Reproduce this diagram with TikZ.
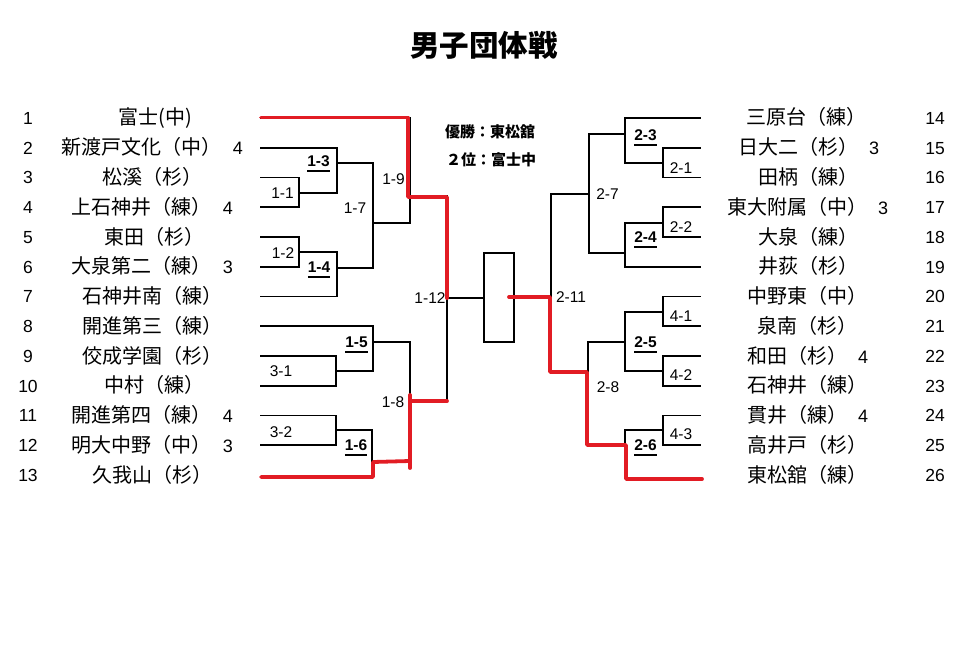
\documentclass[tikz,border=0pt]{standalone}
\usepackage{fontspec}
\setmainfont{Liberation Sans}
\newfontfamily\jp{Noto Sans CJK JP}
\definecolor{wred}{RGB}{226,28,36}
\newcommand\dg[1]{\hspace{11pt}{\rmfamily\fontsize{18}{20}\selectfont #1}}
\newlength\ulwd
\newcommand\ulbold[1]{\settowidth\ulwd{\bfseries #1}\rlap{\bfseries #1}\rule[-5.3pt]{\ulwd}{1.6pt}}
\begin{document}
\begin{tikzpicture}[x=1pt,y=-1pt,
  br/.style={line width=1.8pt, line cap=rect, line join=miter, black},
  rd/.style={line width=3.8pt, line cap=round, line join=round, wred},
  nm/.style={anchor=base, inner sep=0pt, font=\jp\fontsize{20}{22}\selectfont},
  num/.style={anchor=base, inner sep=0pt, font=\fontsize{17.5}{20}\selectfont},
  lb/.style={anchor=base, inner sep=0pt, font=\fontsize{15.5}{18}\selectfont},
  ttl/.style={anchor=base, inner sep=0pt, font=\jp\bfseries\fontsize{29.5}{32}\selectfont},
  res/.style={anchor=base, inner sep=0pt, font=\jp\bfseries\fontsize{15}{17}\selectfont}]
\useasboundingbox (0,0) rectangle (966,655);

% title and results
\node[ttl] (title) at (484,57) {男子団体戦};
\node[res] (win) at (490,137.5) {優勝：東松舘};
\node[res] (second) at (491,165.5) {２位：富士中};

% left teams
\foreach \i/\x/\t in {1/155.5/富士(中), 2/152.5/新渡戸文化（中）\dg{4}, 3/152/松溪（杉）, 4/152.5/上石神井（練）\dg{4},
  5/154/東田（杉）, 6/152.5/大泉第二（練）\dg{3}, 7/152/石神井南（練）, 8/152/開進第三（練）, 9/152/佼成学園（杉）,
  10/154/中村（練）, 11/152.5/開進第四（練）\dg{4}, 12/152.5/明大中野（中）\dg{3}, 13/152/久我山（杉）}{
  \pgfmathsetmacro\yy{118+(\i-1)*29.75}
  \node[num] (nl\i) at (28,\yy+6.3) {\i};
  \node[nm] (tl\i) at (\x,\yy+7) {\t};
}
% right teams
\foreach \i/\x/\t in {14/806/三原台（練）, 15/808.5/日大二（杉）\dg{3}, 16/808/田柄（練）, 17/807.5/東大附属（中）\dg{3},
  18/808/大泉（練）, 19/808/井荻（杉）, 20/807/中野東（中）, 21/807/泉南（杉）, 22/807.5/和田（杉）\dg{4},
  23/807/石神井（練）, 24/807.5/貫井（練）\dg{4}, 25/807/高井戸（杉）, 26/807/東松舘（練）}{
  \pgfmathsetmacro\yy{118+(\i-14)*29.75}
  \node[num] (nr\i) at (935,\yy+6.3) {\i};
  \node[nm] (tr\i) at (\x,\yy+7) {\t};
}

% left bracket
\draw[br] (261,118) -- (410,118) -- (410,223) -- (373,223);
\draw[br] (410,196) -- (447,196);
\draw[br] (261,147.75) -- (337,147.75) -- (337,193) -- (299,193);
\draw[br] (261,177.5) -- (299,177.5) -- (299,207.25) -- (261,207.25);
\draw[br] (337,163) -- (373,163) -- (373,268) -- (337,268);
\draw[br] (261,237) -- (299,237) -- (299,266.75) -- (261,266.75);
\draw[br] (299,252) -- (337,252) -- (337,296.5) -- (261,296.5);
\draw[br] (261,326.25) -- (373,326.25) -- (373,371) -- (336,371);
\draw[br] (261,356) -- (336,356) -- (336,385.75) -- (261,385.75);
\draw[br] (373,342) -- (410,342) -- (410,465);
\draw[br] (261,415.5) -- (336,415.5) -- (336,445.25) -- (261,445.25);
\draw[br] (336,430) -- (372,430) -- (372,477) -- (261,477);
\draw[br] (372,462) -- (410,462);
\draw[br] (410,401) -- (447,401) -- (447,196);
\draw[br] (447,298) -- (484,298);
\draw[br] (484,253) rectangle (514,342);
\draw[br] (514,298) -- (551,298);

% right bracket
\draw[br] (551,372) -- (551,194) -- (589,194);
\draw[br] (625,134) -- (589,134) -- (589,253) -- (625,253);
\draw[br] (700,118) -- (625,118) -- (625,163) -- (663,163);
\draw[br] (700,147.75) -- (663,147.75) -- (663,177.5) -- (700,177.5);
\draw[br] (700,207.25) -- (663,207.25) -- (663,237) -- (700,237);
\draw[br] (663,223) -- (625,223) -- (625,266.75) -- (700,266.75);
\draw[br] (551,372) -- (588,372);
\draw[br] (625,342) -- (588,342) -- (588,445) -- (625,445);
\draw[br] (663,312) -- (625,312) -- (625,371) -- (663,371);
\draw[br] (700,296.5) -- (663,296.5) -- (663,326.25) -- (700,326.25);
\draw[br] (700,356) -- (663,356) -- (663,385.75) -- (700,385.75);
\draw[br] (663,430) -- (625,430) -- (625,478) -- (700,478);
\draw[br] (700,415.5) -- (663,415.5) -- (663,445.25) -- (700,445.25);

% winner paths
\draw[rd] (261,117.5) -- (408,117.5) -- (408,197) -- (447,197) -- (447,298);
\draw[rd] (261,477) -- (373,477) -- (373,462) -- (410,461);
\draw[rd] (410,468) -- (410,395);
\draw[rd] (410,401) -- (447,401);
\draw[rd] (509,297) -- (550,297) -- (550,372) -- (587,372) -- (587,445) -- (626,445) -- (626,479) -- (702,479);

% match labels
\node[lb] (m11) at (282.5,198.5) {1-1};
\node[lb] (m12) at (283,258.5) {1-2};
\node[lb] (m13) at (318.5,166.5) {\ulbold{1-3}};
\node[lb] (m14) at (319,272.5) {\ulbold{1-4}};
\node[lb] (m15) at (356.5,347.5) {\ulbold{1-5}};
\node[lb] (m16) at (356,450.5) {\ulbold{1-6}};
\node[lb] (m17) at (355,213.5) {1-7};
\node[lb] (m18) at (393,407.5) {1-8};
\node[lb] (m19) at (393.5,184.5) {1-9};
\node[lb] (m112) at (430,303.5) {1-12};
\node[lb] (m31) at (281,376.5) {3-1};
\node[lb] (m32) at (281,437.5) {3-2};
\node[lb] (m21) at (681,173.5) {2-1};
\node[lb] (m22) at (681,232.5) {2-2};
\node[lb] (m23) at (645.5,140.5) {\ulbold{2-3}};
\node[lb] (m24) at (645.5,242.5) {\ulbold{2-4}};
\node[lb] (m25) at (645.5,347.5) {\ulbold{2-5}};
\node[lb] (m26) at (645.5,450.5) {\ulbold{2-6}};
\node[lb] (m27) at (607.5,199.5) {2-7};
\node[lb] (m28) at (608,392.5) {2-8};
\node[lb] (m211) at (571,302.5) {2-11};
\node[lb] (m41) at (681,321.5) {4-1};
\node[lb] (m42) at (681,380.5) {4-2};
\node[lb] (m43) at (681,439.5) {4-3};
\end{tikzpicture}
\end{document}
